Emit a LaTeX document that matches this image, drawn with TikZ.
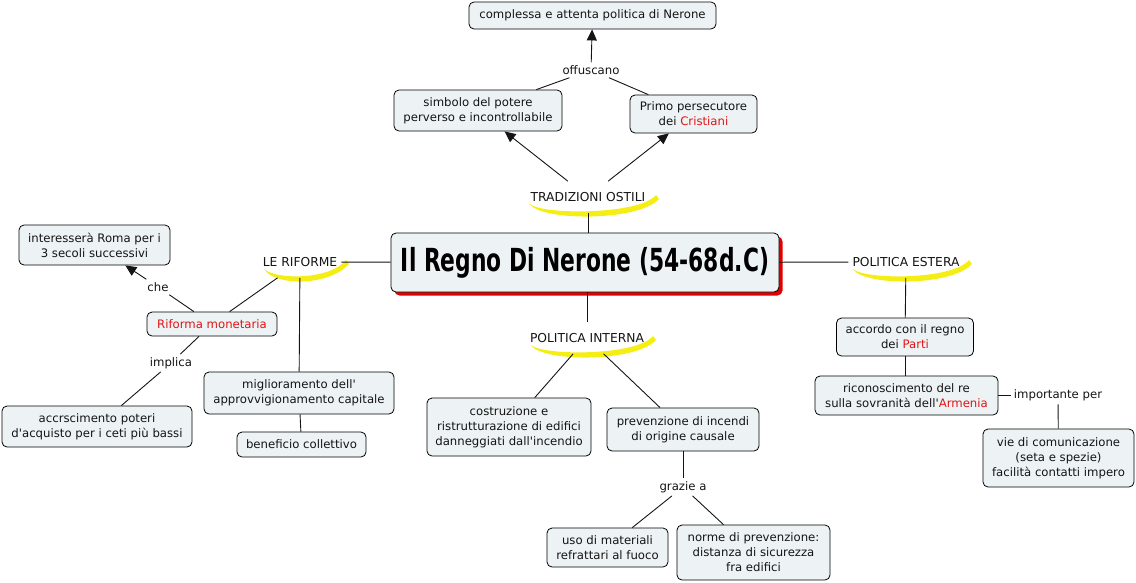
\documentclass[tikz,border=0pt]{standalone}
\usepackage{fontspec}
\setmainfont{DejaVu Sans}[Ligatures=TeXOff]
\usepackage{graphicx}
\usetikzlibrary{arrows.meta,shadows}
\definecolor{boxfill}{RGB}{237,243,245}
\definecolor{redtxt}{RGB}{225,20,20}
\definecolor{swy}{RGB}{245,238,20}
\definecolor{txt}{RGB}{20,20,20}
\definecolor{shadowred}{RGB}{225,0,0}
\tikzset{
  pics/swoosh/.style={code={
    \fill[swy] (-#1+2,7) .. controls (-#1+12,24) and (#1-10,25) .. (#1+11,2)
      -- (#1+8,-2) .. controls (#1-8,18) and (-#1+14,18) .. cycle;
  }},
  box/.style={draw=black, line width=0.8pt, rounded corners=5pt, fill=boxfill, align=center,
    inner sep=2pt, text=txt, font=\fontsize{11.7}{15}\selectfont},
  lbl/.style={align=center, inner sep=3pt, text=txt, font=\fontsize{11.7}{15}\selectfont},
  cat/.style={inner xsep=4pt, inner ysep=11pt, text=txt, font=\fontsize{12.3}{15}\selectfont},
  conn/.style={draw=txt, line width=0.9pt},
  arr/.style={conn, -{Triangle[length=11pt,width=10pt]}},
}
\begin{document}
\begin{tikzpicture}[x=1pt,y=-1pt]
\useasboundingbox (0,0) rectangle (1136,582);
% swooshes
\pic at (588,197) {swoosh=60};
\pic at (300,262) {swoosh=38};
\pic at (906,262) {swoosh=55};
\pic at (587,338) {swoosh=58};
% category labels
\node[cat] (trad) at (588,197) {TRADIZIONI OSTILI};
\node[cat] (lerif) at (300,262) {LE RIFORME};
\node[cat] (estera) at (906,262) {POLITICA ESTERA};
\node[cat] (interna) at (587,338) {POLITICA INTERNA};
% title
\node[draw=black, line width=0.8pt, rounded corners=5pt, fill=boxfill, inner sep=0pt,
  minimum width=388pt, minimum height=59pt,
  general shadow={fill=shadowred, shadow xshift=3.5pt, shadow yshift=-3.5pt}]
  (title) at (585,262.5) {\resizebox*{368pt}{31pt}{\bfseries Il Regno Di Nerone (54-68d.C)}};
% boxes
\node[box, minimum width=247pt, minimum height=27pt] (comp) at (592.5,15.5) {complessa e attenta politica di Nerone};
\node[box, minimum width=168pt, minimum height=41pt] (simb) at (478,110.5) {simbolo del potere\\perverso e incontrollabile};
\node[box, minimum width=127pt, minimum height=38pt] (primo) at (693.5,114) {Primo persecutore\\dei \textcolor{redtxt}{Cristiani}};
\node[box, minimum width=151pt, minimum height=40pt] (inter) at (94.5,245) {interesserà Roma per i\\3 secoli successivi};
\node[box, minimum width=130pt, minimum height=24pt] (rif) at (212,324) {\textcolor{redtxt}{Riforma monetaria}};
\node[box, minimum width=190pt, minimum height=41pt] (accr) at (97,426.5) {accrscimento poteri\\d'acquisto per i ceti più bassi};
\node[box, minimum width=190pt, minimum height=42pt] (migl) at (299,393) {miglioramento dell'\\approvvigionamento capitale};
\node[box, minimum width=129pt, minimum height=25pt] (benef) at (301.5,444.5) {beneficio collettivo};
\node[box, minimum width=164pt, minimum height=58pt] (costr) at (509,427) {costruzione e\\ristrutturazione di edifici\\danneggiati dall'incendio};
\node[box, minimum width=152pt, minimum height=43pt] (prev) at (683,429.5) {prevenzione di incendi\\di origine causale};
\node[box, minimum width=121pt, minimum height=39pt] (uso) at (607.5,547.5) {uso di materiali\\refrattari al fuoco};
\node[box, minimum width=153pt, minimum height=55pt] (norme) at (753.5,552.5) {norme di prevenzione:\\distanza di sicurezza\\fra edifici};
\node[box, minimum width=137pt, minimum height=38pt] (accordo) at (905,337) {accordo con il regno\\dei \textcolor{redtxt}{Parti}};
\node[box, minimum width=183pt, minimum height=39pt] (ricon) at (906.5,395.5) {riconoscimento del re\\sulla sovranità dell'\textcolor{redtxt}{Armenia}};
\node[box, minimum width=151pt, minimum height=58pt] (vie) at (1058.5,458) {vie di comunicazione\\(seta e spezie)\\facilità contatti impero};
% link labels
\node[lbl] (offu) at (591,70) {offuscano};
\node[lbl] (che) at (158,287) {che};
\node[lbl] (impl) at (171,363) {implica};
\node[lbl] (grazie) at (683,487) {grazie a};
\node[lbl] (imp) at (1058,395.5) {importante per};
% connectors
\draw[conn] (simb) -- (offu);
\draw[conn] (primo) -- (offu);
\draw[arr] (offu) -- (comp);
\draw[arr] (trad) -- (simb);
\draw[arr] (trad) -- (primo);
\draw[conn] (trad) -- (trad |- title.north);
\draw[conn] (title) -- (lerif);
\draw[conn] (title) -- (estera);
\draw[conn] (interna |- title.south) -- (interna);
\draw[conn] (lerif) -- (rif);
\draw[conn] (lerif) -- (migl);
\draw[conn] (rif) -- (che);
\draw[arr] (che) -- (inter);
\draw[conn] (rif) -- (impl);
\draw[conn] (impl) -- (accr);
\draw[conn] (migl) -- (benef);
\draw[conn] (interna) -- (costr);
\draw[conn] (interna) -- (prev);
\draw[conn] (prev) -- (grazie);
\draw[conn] (grazie) -- (uso);
\draw[conn] (grazie) -- (norme);
\draw[conn] (estera) -- (accordo);
\draw[conn] (accordo) -- (accordo |- ricon.north);
\draw[conn] (ricon) -- (imp);
\draw[conn] (imp) -- (vie);
\end{tikzpicture}
\end{document}
